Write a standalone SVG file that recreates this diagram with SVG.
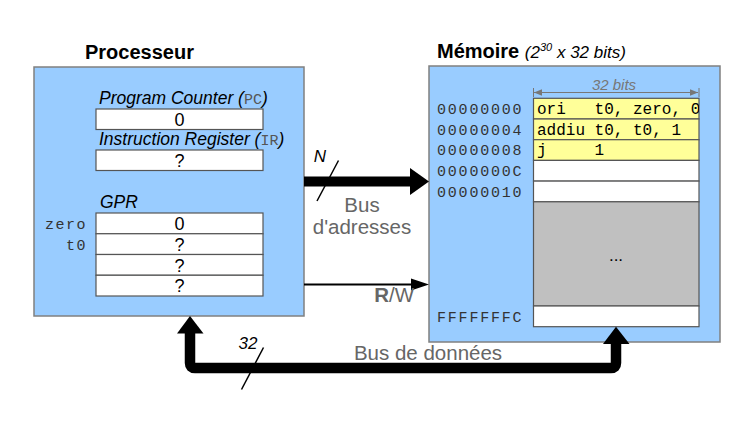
<svg xmlns="http://www.w3.org/2000/svg" width="750" height="434" viewBox="0 0 750 434">
<style>
.box{fill:#99ccff;stroke:#808080;stroke-width:1.5}
.cell{fill:#ffffff;stroke:#555555;stroke-width:1.2}
.ycell{fill:#ffff99;stroke:#555555;stroke-width:1.2}
.gcell{fill:#c0c0c0;stroke:#555555;stroke-width:1.2}
.title{font-family:"Liberation Sans",Arial,sans-serif;font-weight:bold;font-size:20px;fill:#000}
.it{font-family:"Liberation Sans",Arial,sans-serif;font-style:italic;font-size:17.5px;fill:#000}
.val{font-family:"Liberation Sans",Arial,sans-serif;font-size:18px;fill:#000;text-anchor:middle}
.mono{font-family:"Liberation Mono","Courier New",monospace;fill:#333}
.addr{font-family:"Liberation Mono","Courier New",monospace;font-size:15px;letter-spacing:1.8px;fill:#333}
.ins{font-family:"Liberation Mono","Courier New",monospace;font-size:16px;fill:#000;white-space:pre}
.gray{font-family:"Liberation Sans",Arial,sans-serif;font-size:20.5px;fill:#666666}
</style>
<defs>
<marker id="dim" viewBox="0 0 10 10" refX="10" refY="5" markerWidth="8" markerHeight="8" orient="auto-start-reverse" markerUnits="userSpaceOnUse">
<path d="M0,1 L10,5 L0,9 z" fill="#777"/>
</marker>
<clipPath id="colclip"><rect x="533" y="98" width="166" height="62"/></clipPath>
</defs>

<g id="processeur">
<text class="title" x="85" y="59">Processeur</text>
<rect class="box" x="34" y="67" width="270" height="249"/>
<text class="it" x="99" y="104">Program Counter (<tspan class="mono" style="font-style:normal;font-size:15px;fill:#555">PC</tspan>)</text>
<rect class="cell" x="96" y="109" width="167" height="20.5"/>
<text class="val" x="179.5" y="126">0</text>
<text class="it" x="99" y="145">Instruction Register (<tspan class="mono" style="font-style:normal;font-size:15px;fill:#555">IR</tspan>)</text>
<rect class="cell" x="96" y="150" width="167" height="20.5"/>
<text class="val" x="179.5" y="167">?</text>
<text class="it" x="100" y="208">GPR</text>
<rect class="cell" x="96" y="213" width="167" height="20.75"/>
<rect class="cell" x="96" y="233.75" width="167" height="20.75"/>
<rect class="cell" x="96" y="254.5" width="167" height="20.75"/>
<rect class="cell" x="96" y="275.25" width="167" height="20.75"/>
<text class="val" x="179.5" y="230">0</text>
<text class="val" x="179.5" y="251">?</text>
<text class="val" x="179.5" y="272">?</text>
<text class="val" x="179.5" y="292">?</text>
<text class="mono" x="87" y="229" font-size="15" letter-spacing="1.5" text-anchor="end" fill="#555">zero</text>
<text class="mono" x="87" y="250" font-size="15" letter-spacing="1.5" text-anchor="end" fill="#555">t0</text>
</g>

<g id="memoire">
<text class="title" x="437" y="58">Mémoire <tspan style="font-weight:normal;font-style:italic;font-size:17px">(2<tspan dy="-7" font-size="11">30</tspan><tspan dy="7"> x 32 bits)</tspan></tspan></text>
<rect class="box" x="429" y="66" width="291" height="276"/>
<text x="614" y="90" text-anchor="middle" style="font-family:'Liberation Sans',Arial,sans-serif;font-style:italic;font-size:15px;fill:#777">32 bits</text>
<line x1="534" y1="92.5" x2="698" y2="92.5" stroke="#777" stroke-width="1.2" marker-start="url(#dim)" marker-end="url(#dim)"/>
<line x1="533.5" y1="88" x2="533.5" y2="97" stroke="#777" stroke-width="1"/>
<line x1="699" y1="88" x2="699" y2="97" stroke="#777" stroke-width="1"/>
<rect class="ycell" x="533.5" y="98.3" width="165.5" height="20.7"/>
<rect class="ycell" x="533.5" y="119" width="165.5" height="20.7"/>
<rect class="ycell" x="533.5" y="139.7" width="165.5" height="20.7"/>
<rect class="cell" x="533.5" y="160.4" width="165.5" height="20.7"/>
<rect class="cell" x="533.5" y="181.1" width="165.5" height="20.7"/>
<rect class="gcell" x="533.5" y="201.8" width="165.5" height="104.2"/>
<rect class="cell" x="533.5" y="306" width="165.5" height="20.7"/>
<g clip-path="url(#colclip)">
<text class="ins" x="537" y="114">ori   t0, zero, 0</text>
<text class="ins" x="537" y="135">addiu t0, t0, 1</text>
<text class="ins" x="537" y="155">j     1</text>
</g>
<text x="616" y="261" text-anchor="middle" style="font-family:'Liberation Sans',Arial,sans-serif;font-size:17px;fill:#000">...</text>
<text class="addr" x="437" y="114">00000000</text>
<text class="addr" x="437" y="135">00000004</text>
<text class="addr" x="437" y="155">00000008</text>
<text class="addr" x="437" y="176">0000000C</text>
<text class="addr" x="437" y="197">00000010</text>
<text class="addr" x="437" y="322">FFFFFFFC</text>
</g>

<g id="connectors">
<!-- address bus -->
<rect x="304" y="176.5" width="108" height="10" fill="#000"/>
<path d="M410,168 L429,181.5 L410,195 z" fill="#000"/>
<line x1="317" y1="201" x2="338.5" y2="160.5" stroke="#000" stroke-width="1.5"/>
<text x="320" y="162" text-anchor="middle" style="font-family:'Liberation Sans',Arial,sans-serif;font-style:italic;font-size:17px">N</text>
<text class="gray" x="362" y="211.5" text-anchor="middle" font-size="21">Bus</text>
<text class="gray" x="362" y="234" text-anchor="middle" font-size="21">d'adresses</text>
<!-- R/W -->
<line x1="304" y1="284.5" x2="414" y2="284.5" stroke="#000" stroke-width="2"/>
<path d="M411,278.5 L429,284.5 L411,290.5 z" fill="#000"/>
<text class="gray" x="414" y="301.5" text-anchor="end" font-size="18.5"><tspan font-weight="bold">R</tspan>/W</text>
<!-- data bus -->
<path d="M190,333 L190,363 Q190,368 195,368 L611,368 Q616,368 616,363 L616,343" fill="none" stroke="#000" stroke-width="10.5"/>
<path d="M177,333.5 L190,316 L203.5,333.5 z" fill="#000"/>
<path d="M603,344 L616,326.7 L629.5,344 z" fill="#000"/>
<line x1="241.5" y1="389.5" x2="263.5" y2="347.5" stroke="#000" stroke-width="1.5"/>
<text x="248" y="349" text-anchor="middle" style="font-family:'Liberation Sans',Arial,sans-serif;font-style:italic;font-size:17px">32</text>
<text class="gray" x="428" y="359.5" text-anchor="middle">Bus de données</text>
</g>
</svg>
